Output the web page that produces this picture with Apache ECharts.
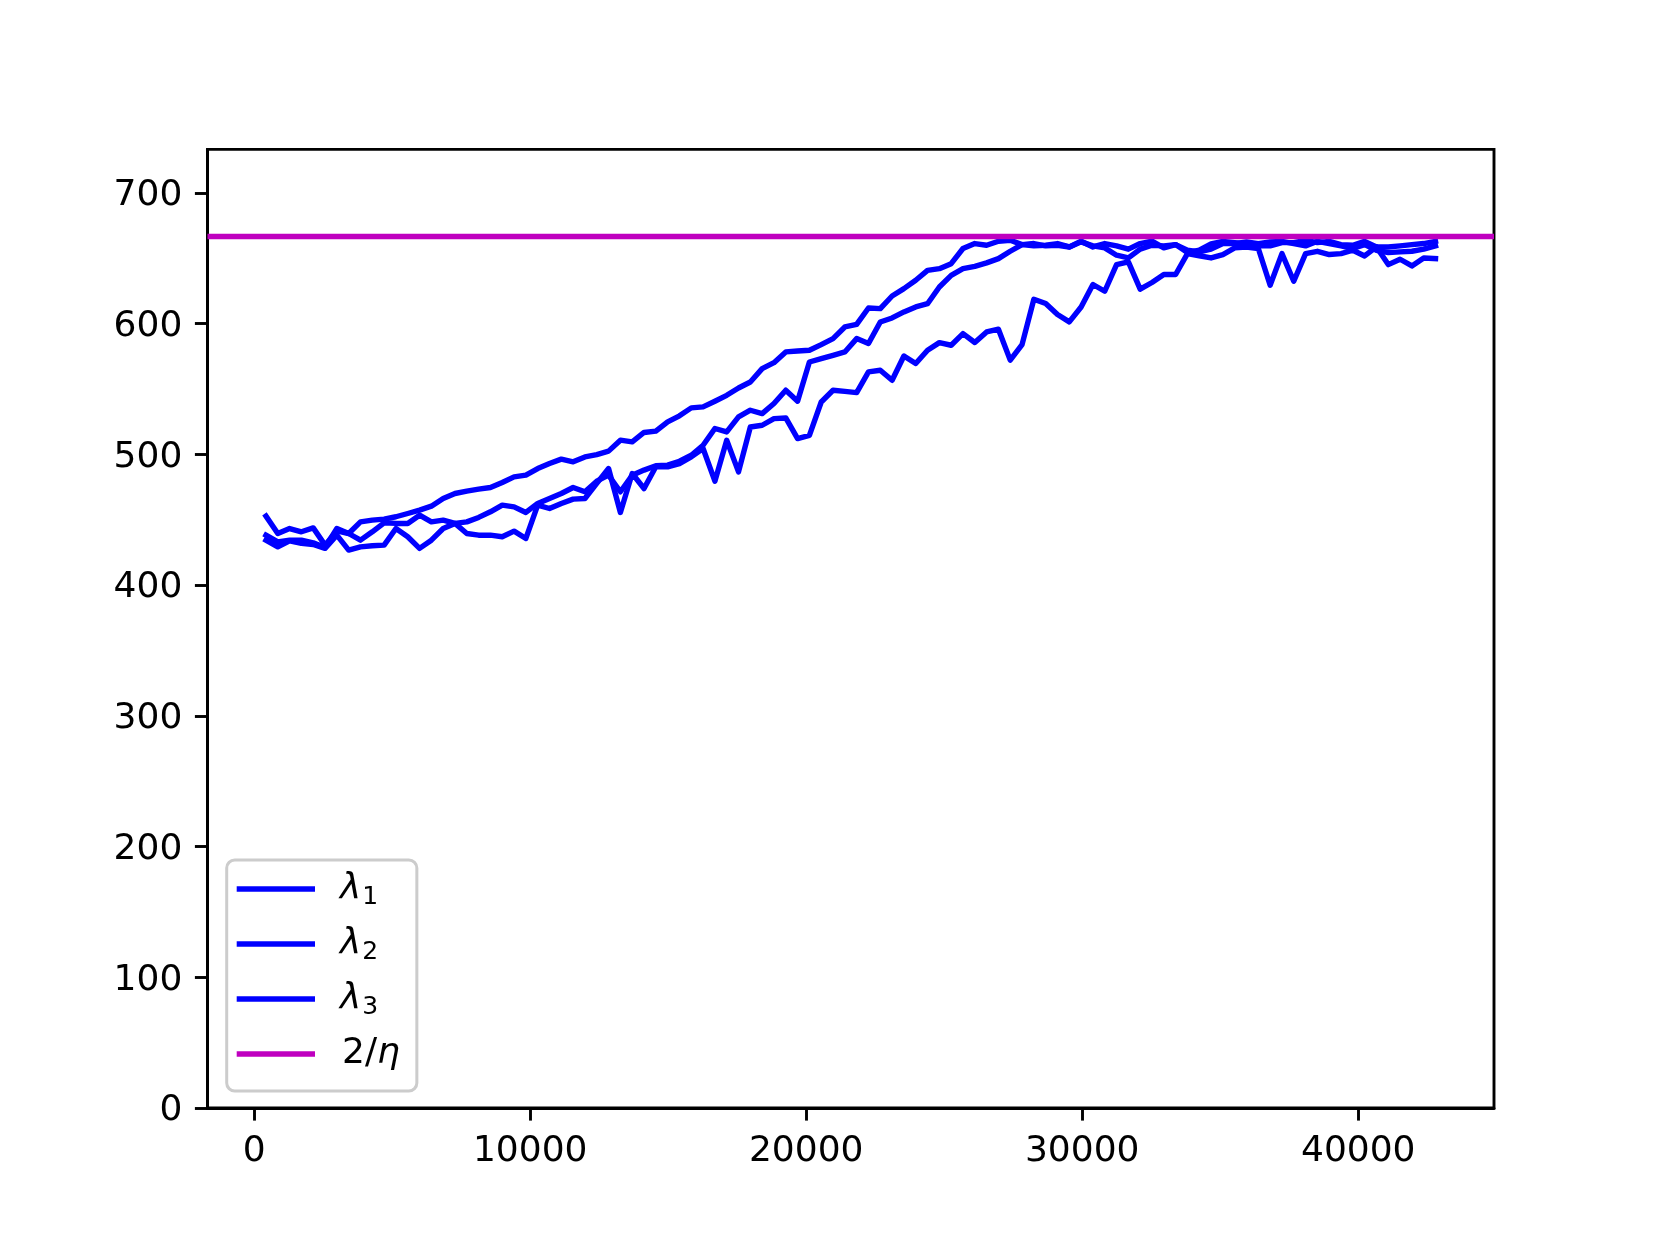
<!DOCTYPE html>
<html>
<head>
<meta charset="utf-8">
<script src="https://cdn.jsdelivr.net/npm/echarts@6.0.0/dist/echarts.min.js"></script>
<style>
html, body { margin: 0; padding: 0; background: #fff; }
#chart { width: 1660px; height: 1245px; }
</style>
</head>
<body>
<div id="chart"></div>
<script>
// training steps (x)
const steps = [
  428, 856, 1284, 1712, 2140, 2568, 2996, 3424, 3852, 4280,
  4708, 5136, 5564, 5992, 6420, 6848, 7276, 7704, 8132, 8560,
  8988, 9416, 9844, 10272, 10700, 11128, 11556, 11984, 12412, 12840,
  13268, 13696, 14124, 14552, 14980, 15408, 15836, 16264, 16692, 17120,
  17548, 17976, 18404, 18832, 19260, 19688, 20116, 20544, 20972, 21400,
  21828, 22256, 22684, 23112, 23540, 23968, 24396, 24824, 25252, 25680,
  26108, 26536, 26964, 27392, 27820, 28248, 28676, 29104, 29532, 29960,
  30388, 30816, 31244, 31672, 32100, 32528, 32956, 33384, 33812, 34240,
  34668, 35096, 35524, 35952, 36380, 36808, 37236, 37664, 38092, 38520,
  38948, 39376, 39804, 40232, 40660, 41088, 41516, 41944, 42372, 42800
];

const lambda1 = [
  438.2, 433.1, 434.4, 434.4, 432.4, 428.8, 443.3, 439.5, 448.4, 449.7,
  450.5, 452.3, 454.8, 457.4, 460.4, 466.3, 470.1, 471.9, 473.4, 474.7,
  478.5, 482.8, 484.1, 489.2, 493.0, 496.4, 494.3, 498.1, 499.9, 502.5,
  510.9, 509.6, 516.8, 517.8, 524.9, 529.5, 535.6, 536.4, 540.7, 545.2,
  550.8, 555.4, 565.6, 570.2, 578.4, 579.1, 579.7, 584.0, 588.6, 597.5,
  599.5, 612.0, 611.5, 621.2, 626.8, 633.2, 640.8, 642.1, 645.9, 657.5,
  661.3, 660.0, 663.1, 663.8, 660.5, 659.5, 660.0, 661.3, 658.7, 663.1,
  658.7, 661.3, 659.5, 657.0, 661.3, 663.1, 658.0, 660.5, 654.4, 656.2,
  661.0, 663.0, 662.0, 661.0, 659.5, 659.5, 662.0, 662.0, 663.8, 662.0,
  663.0, 660.5, 660.0, 663.0, 658.7, 658.7, 659.5, 660.5, 661.3, 663.0
];

const lambda2 = [
  434.4, 429.3, 433.9, 431.9, 431.1, 428.1, 438.2, 426.8, 429.3, 430.1,
  430.6, 443.3, 437.0, 428.1, 434.4, 443.3, 447.2, 448.4, 451.8, 456.1,
  461.2, 459.9, 455.6, 462.5, 466.3, 470.1, 474.7, 471.4, 479.5, 484.1,
  471.4, 484.1, 488.0, 491.3, 491.8, 494.8, 499.4, 507.0, 519.8, 517.2,
  528.7, 533.8, 531.2, 538.9, 549.1, 540.7, 570.7, 573.3, 575.8, 578.4,
  588.6, 584.8, 601.3, 604.4, 609.0, 612.8, 615.3, 628.1, 637.0, 642.1,
  643.9, 646.5, 649.8, 655.4, 660.5, 661.3, 659.5, 660.0, 658.7, 662.6,
  659.5, 658.0, 652.4, 650.3, 657.0, 660.0, 659.5, 660.5, 656.2, 654.9,
  657.0, 661.3, 661.3, 662.6, 661.3, 662.6, 663.0, 661.3, 659.5, 663.0,
  661.3, 659.5, 657.5, 660.5, 656.2, 654.4, 654.9, 655.4, 657.0, 659.5
];

const lambda3 = [
  452.8, 439.5, 443.3, 440.8, 443.8, 430.6, 441.5, 439.5, 434.4, 440.8,
  447.7, 447.2, 447.2, 453.5, 448.4, 449.7, 447.2, 439.5, 438.2, 438.2,
  437.0, 441.3, 435.7, 461.2, 458.6, 462.5, 465.8, 466.3, 477.8, 489.2,
  455.6, 485.4, 473.9, 490.5, 490.5, 493.0, 498.1, 504.5, 479.5, 510.8,
  486.6, 521.0, 522.3, 527.4, 527.9, 512.1, 514.6, 540.1, 549.1, 548.2,
  547.3, 563.1, 564.4, 556.7, 575.3, 569.5, 579.7, 585.5, 583.5, 592.4,
  585.6, 593.7, 595.8, 572.1, 584.0, 618.7, 615.4, 607.0, 601.4, 612.8,
  630.0, 624.8, 645.2, 647.3, 626.4, 631.5, 637.6, 637.6, 653.6, 652.0,
  650.3, 652.9, 658.0, 658.7, 657.5, 629.4, 653.6, 632.5, 653.6, 655.4,
  652.9, 653.6, 656.2, 651.8, 658.7, 645.2, 649.3, 644.2, 650.3, 649.8
];

const eta = 0.003;
const threshold = 2 / eta;

const xTicks = [0, 10000, 20000, 30000, 40000];
const yTicks = [0, 100, 200, 300, 400, 500, 600, 700];

const seriesNames = ['λ1', 'λ2', 'λ3', '2/η'];

// matplotlib style autoscale margins
const xSpan = steps[steps.length - 1] - steps[0];
const xMin = steps[0] - 0.05 * xSpan;
const xMax = steps[steps.length - 1] + 0.05 * xSpan;
const yMax = 1.1 * threshold;

const BLUE = '#0000ff';
const MAGENTA = '#bf00bf';
const LW = 5.4;
const FONT = 'DejaVu Sans';

function pairs(ys) {
  return ys.map((y, i) => [steps[i], y]);
}

function blueLine(name, ys) {
  return {
    name: name,
    type: 'line',
    data: pairs(ys),
    symbol: 'none',
    color: BLUE,
    itemStyle: { color: BLUE },
    lineStyle: { color: BLUE, width: LW, cap: 'square', join: 'round' },
    emphasis: { disabled: true },
    z: 2
  };
}

const spine = { show: true, onZero: false, lineStyle: { color: '#000', width: 2.9 } };
const tickStyle = { color: '#000', width: 2.9 };

const chart = echarts.init(document.getElementById('chart'), null, { renderer: 'canvas' });

const option = {
  animation: false,
  backgroundColor: '#fff',
  textStyle: { fontFamily: FONT },
  grid: {
    left: 207.5, right: 166, top: 149.4, bottom: 137,
    show: true, borderColor: '#000', borderWidth: 2.9,
    backgroundColor: 'transparent',
    outerBoundsMode: 'none'
  },
  legend: {
    orient: 'vertical',
    left: 226.7, top: 860,
    padding: [7, 16, 15, 10],
    itemGap: 11,
    itemWidth: 78.3,
    itemHeight: LW,
    icon: 'rect',
    selectedMode: false,
    backgroundColor: 'rgba(255,255,255,0.8)',
    borderColor: '#cccccc',
    borderWidth: 3,
    borderRadius: 8,
    data: seriesNames,
    itemStyle: { borderWidth: 0 },
    formatter: function (name) {
      if (name === '2/η') return '{n|2/}{g|η}{s|\u200b}';
      return '{l|λ}{s|' + name.slice(1) + '}';
    },
    textStyle: {
      color: '#000',
      fontFamily: FONT,
      fontSize: 36,
      lineHeight: 44,
      rich: {
        l: { fontSize: 36, fontStyle: 'italic', fontFamily: FONT, lineHeight: 44, padding: [0, 0, 0, 20], color: '#000' },
        s: { fontSize: 25, fontFamily: FONT, lineHeight: 44, padding: [17, 0, 0, 1], color: '#000' },
        n: { fontSize: 36, fontFamily: FONT, lineHeight: 44, padding: [0, 0, 0, 22], color: '#000' },
        g: { fontSize: 36, fontStyle: 'italic', fontFamily: FONT, lineHeight: 44, color: '#000' }
      }
    }
  },
  xAxis: {
    type: 'value',
    min: xMin,
    max: xMax,
    axisLine: spine,
    splitLine: { show: false },
    axisTick: { show: true, length: 12.6, customValues: xTicks, lineStyle: tickStyle },
    axisLabel: {
      customValues: xTicks, margin: 25.2,
      color: '#000', fontSize: 36, fontFamily: FONT,
      formatter: v => String(v)
    }
  },
  yAxis: {
    type: 'value',
    min: 0,
    max: yMax,
    axisLine: spine,
    splitLine: { show: false },
    axisTick: { show: true, length: 12.6, customValues: yTicks, lineStyle: tickStyle },
    axisLabel: {
      customValues: yTicks, margin: 25.2,
      color: '#000', fontSize: 36, fontFamily: FONT,
      formatter: v => '{v|' + v + '}',
      rich: {
        v: { fontSize: 36, fontFamily: FONT, color: '#000', padding: [6, 0, 0, 0] }
      }
    }
  },
  series: [
    blueLine('λ1', lambda1),
    blueLine('λ2', lambda2),
    blueLine('λ3', lambda3),
    {
      name: '2/η',
      type: 'line',
      data: [],
      symbol: 'none',
      color: MAGENTA,
      itemStyle: { color: MAGENTA },
      lineStyle: { color: MAGENTA, width: LW },
      z: 3,
      markLine: {
        silent: true,
        symbol: ['none', 'none'],
        label: { show: false },
        emphasis: { disabled: true },
        lineStyle: { color: MAGENTA, width: LW, type: 'solid' },
        data: [{ yAxis: threshold }]
      }
    }
  ]
};

chart.setOption(option);
</script>
</body>
</html>
